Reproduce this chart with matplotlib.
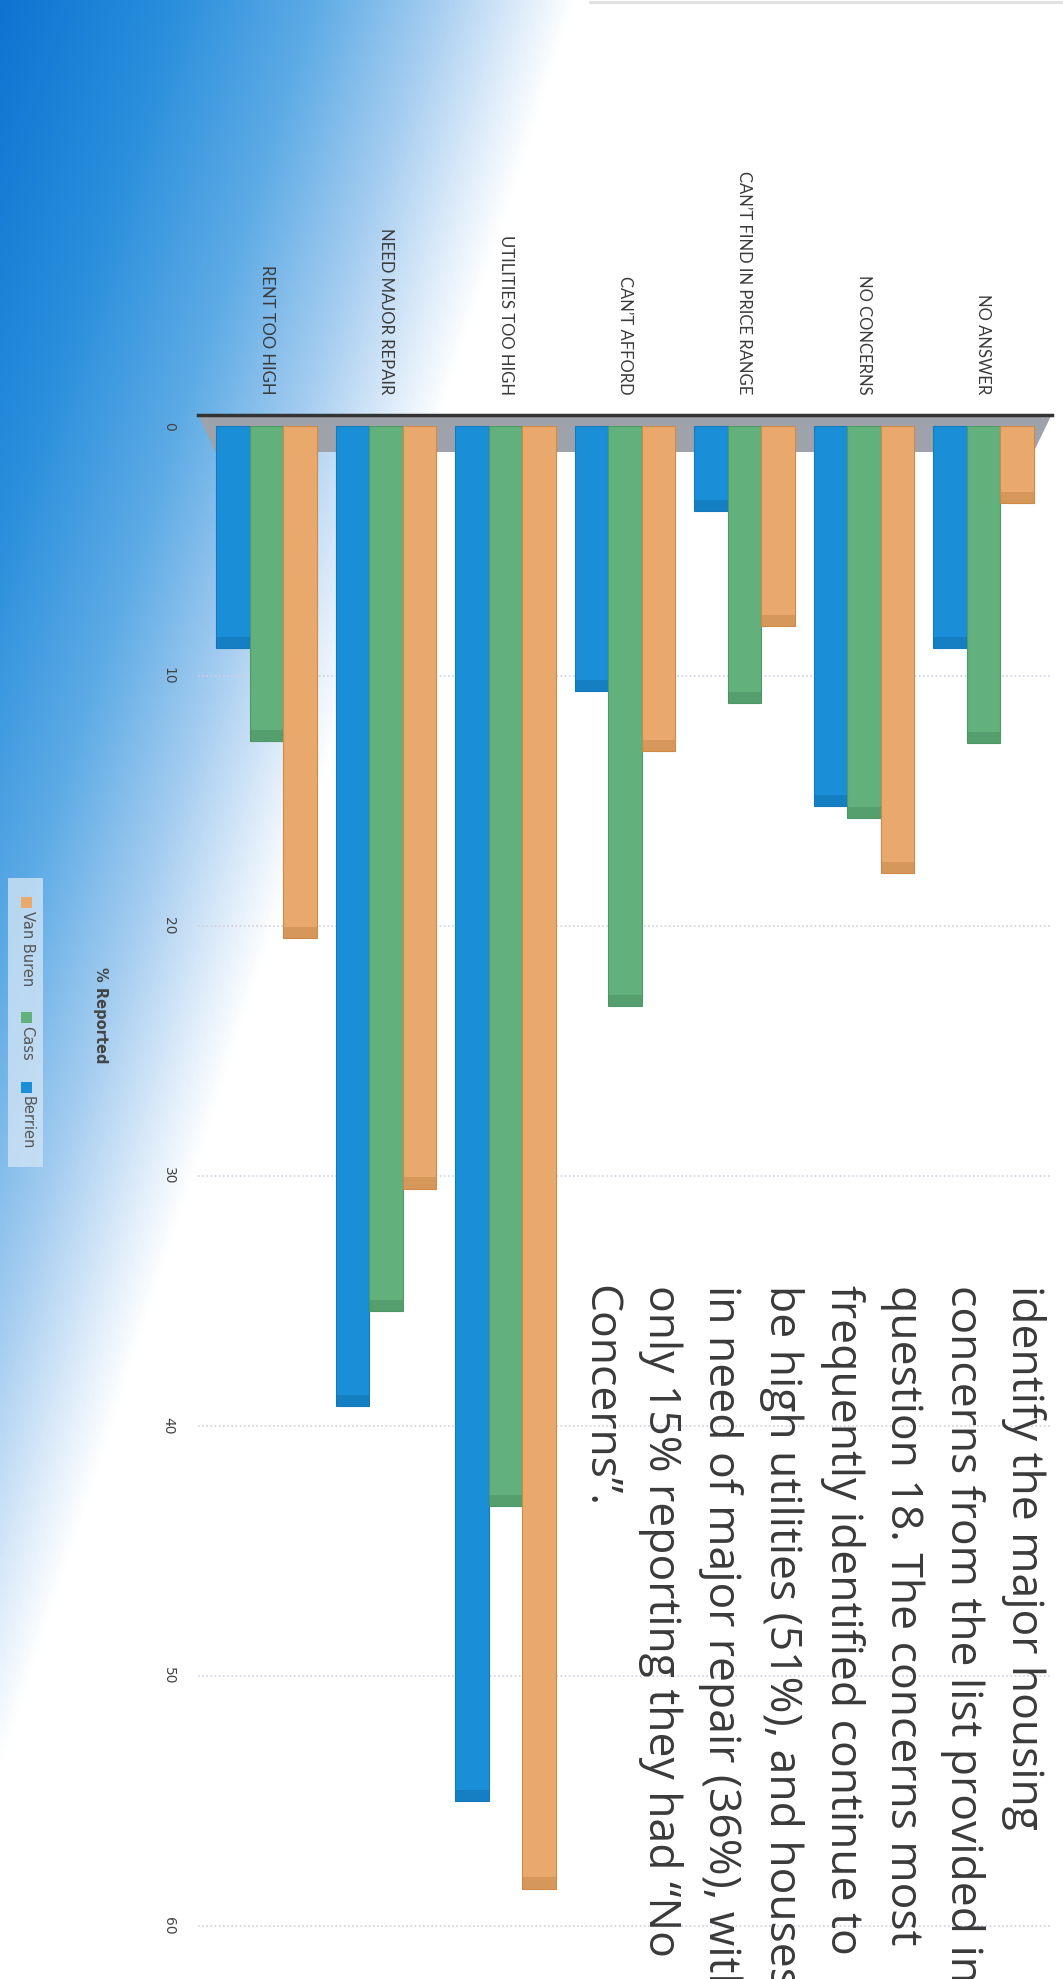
import numpy as np
import matplotlib.pyplot as plt
from matplotlib.colors import LinearSegmentedColormap
from matplotlib.patches import Rectangle, Polygon

# -------------------------------------------------------------
# Housing concerns by county (% reported)
# -------------------------------------------------------------
categories = ["RENT TOO HIGH", "NEED MAJOR REPAIR", "UTILITIES TOO HIGH",
              "CAN\u2019T AFFORD", "CAN\u2019T FIND IN PRICE RANGE",
              "NO CONCERNS", "NO ANSWER"]
counties = ["Berrien", "Cass", "Van Buren"]
berrien = [8.9, 39.2, 55.0, 10.6, 3.4, 15.2, 8.9]
cass = [12.6, 35.4, 43.2, 23.2, 11.1, 15.7, 12.7]
van_buren = [20.5, 30.5, 58.5, 13.0, 8.0, 17.9, 3.1]
value_ticks = [0, 10, 20, 30, 40, 50, 60]
axis_title = "% Reported"

paragraph = [
    "identify the major housing",
    "concerns from the list provided in",
    "question 18. The concerns most",
    "frequently identified continue to",
    "be high utilities (51%), and houses",
    "in need of major repair (36%), with",
    "only 15% reporting they had \u201cNo",
    "Concerns\u201d.",
]

colors = {"Berrien": "#1a8fd8", "Cass": "#62b07c", "Van Buren": "#e9a96c"}
edges = {"Berrien": "#1479bd", "Cass": "#4e9a66", "Van Buren": "#cf8a48"}
lips = {"Berrien": "#1270b0", "Cass": "#4a8e60", "Van Buren": "#c4874c"}

W, H = 1063, 1979


def fx(px):
    return px / W


def fy(py):
    return 1 - py / H


fig = plt.figure(figsize=(W / 100, H / 100), dpi=100)

# -------------------------------------------------------------
# Blue page background fading to white
# -------------------------------------------------------------
bg = fig.add_axes([0, 0, 1, 1], zorder=0)
bg.axis("off")
gx, gy = np.meshgrid(np.linspace(0, W, 260), np.linspace(0, H, 480))
t = gx / 560.0 + gy / 1720.0
blue_fade = LinearSegmentedColormap.from_list(
    "blue_fade",
    [(0.0, "#0d74d2"), (0.3, "#2a8fdc"), (0.55, "#5eabe5"),
     (0.76, "#a6cdf0"), (0.9, "#dbeaf9"), (1.0, "#ffffff")])
bg.imshow(np.clip(t / 1.03, 0, 1), cmap=blue_fade, vmin=0, vmax=1,
          extent=[0, W, H, 0], aspect="auto", interpolation="bilinear")
bg.set_xlim(0, W)
bg.set_ylim(H, 0)
bg.plot([590, W], [2, 2], color="#e0e0e0", lw=2)

# -------------------------------------------------------------
# Bar chart (drawn turned on its side)
# -------------------------------------------------------------
ax = fig.add_axes([fx(198), 0, fx(1052) - fx(198), 1 - 414 / H], zorder=1)
ax.patch.set_alpha(0)
ax.set_xlim(-0.574, 6.574)
ax.set_ylim(62.12, -0.48)
for s in ax.spines.values():
    s.set_visible(False)

x = np.arange(len(categories))
width = 0.281
series = [("Berrien", berrien), ("Cass", cass), ("Van Buren", van_buren)]
for i, (name, vals) in enumerate(series):
    pos = x + (i - 1) * width
    ax.bar(pos, vals, width, color=colors[name],
           edgecolor=edges[name], linewidth=0.8, zorder=3)
    # darker end face of each bar
    ax.bar(pos, [0.45] * len(vals), width, bottom=np.array(vals) - 0.45,
           color=lips[name], edgecolor="none", alpha=0.5, zorder=4)

# floor and back edge
floor = Polygon([(-0.574, -0.48), (6.574, -0.48), (6.42, 1.04), (-0.43, 1.04)],
                closed=True, facecolor="#9ea2ab", edgecolor="none", zorder=2)
ax.add_patch(floor)
ax.plot([-0.574, 6.574], [-0.42, -0.42], color="#333333", lw=2.5,
        clip_on=False, zorder=5)

for v in value_ticks[1:]:
    ax.axhline(v, color="#cfd1e0", lw=1.2, ls=(0, (1, 1.5)), zorder=1)

ax.xaxis.tick_top()
ax.set_xticks(x)
ax.set_xticklabels(categories, rotation=-90, fontsize=12, color="#3b3b3b",
                   family="Lato")
ax.tick_params(axis="x", length=0, pad=14)
ax.set_yticks(value_ticks)
ax.set_yticklabels([str(v) for v in value_ticks], rotation=-90, fontsize=10,
                   color="#444444")
for lab in ax.get_yticklabels():
    lab.set_va("center")
ax.tick_params(axis="y", length=0, pad=16)

fig.text(fx(100), fy(1015), axis_title, rotation=-90, ha="center", va="center",
         fontsize=10.5, fontweight="bold", color="#444444")

# -------------------------------------------------------------
# Legend box
# -------------------------------------------------------------
fig.add_artist(Rectangle((fx(8), fy(1167)), fx(35), 289 / H,
                         transform=fig.transFigure, facecolor="#cfe3f5",
                         edgecolor="none", alpha=0.8, zorder=2))
legend_starts = [897, 1012, 1082]
for name, y0 in zip(["Van Buren", "Cass", "Berrien"], legend_starts):
    fig.add_artist(Rectangle((fx(21), fy(y0 + 11)), fx(11), 11 / H,
                             transform=fig.transFigure, facecolor=colors[name],
                             edgecolor="none", zorder=3))
    fig.text(fx(27), fy(y0 + 14), name, rotation=-90, ha="center", va="top",
             fontsize=10.5, color="#555555", zorder=3)

# -------------------------------------------------------------
# Report text beside the chart
# -------------------------------------------------------------
for i, line in enumerate(paragraph):
    fig.text(fx(1012 - 60.5 * i), fy(1285), line, rotation=-90,
             rotation_mode="anchor", ha="left", va="baseline",
             fontsize=32, family="Open Sans", color="#3a3a3a", zorder=3)

fig.savefig("out.png", dpi=100)
